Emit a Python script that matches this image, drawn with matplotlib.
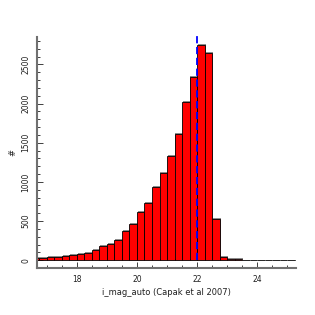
import matplotlib
matplotlib.use("Agg")
import matplotlib.pyplot as plt
import matplotlib.patheffects as pe
from matplotlib.ticker import MultipleLocator

bin_left = [16.5 + 0.25 * i for i in range(36)]
counts = [28, 30, 38, 40, 55, 64, 85, 94, 135, 182, 204, 259, 372, 462, 610, 728,
          934, 1110, 1326, 1615, 2015, 2345, 2745, 2640, 523, 46, 20, 12, 6, 4, 3,
          2, 2, 1, 1, 1]
bin_width = 0.25
cut_value = 22.0
xlabel = "i_mag_auto (Capak et al 2007)"
ylabel = "#"

fig = plt.figure(figsize=(3.15, 3.15), dpi=100)
ax = fig.add_axes([0.1175, 0.149, 0.8225, 0.7335])

bars = ax.bar(bin_left, counts, width=bin_width, align="edge",
              color="#ff0000", edgecolor="black", linewidth=0.6, zorder=2)
for b in bars:
    b.set_path_effects([pe.SimplePatchShadow(offset=(0.7, 0.7), shadow_rgbFace="#808080", alpha=0.9),
                        pe.Normal()])

ax.plot([cut_value, cut_value], [0, 2860], color="#0000ff", linestyle=(0, (4, 2)),
        linewidth=1.3, zorder=10, clip_on=False, snap=True)

ax.set_xlim(16.67, 25.3)
ax.set_ylim(-100, 2850)

for s in ["top", "right"]:
    ax.spines[s].set_visible(False)
for s in ["left", "bottom"]:
    ax.spines[s].set_color("#707070")
    ax.spines[s].set_linewidth(1.5)

ax.xaxis.set_major_locator(MultipleLocator(2))
ax.xaxis.set_minor_locator(MultipleLocator(0.5))
ax.yaxis.set_major_locator(MultipleLocator(500))
ax.yaxis.set_minor_locator(MultipleLocator(100))
ax.tick_params(which="both", direction="in", color="#404040", width=0.7, labelsize=5.5,
               labelcolor="#202020")
ax.tick_params(which="major", length=4)
ax.tick_params(which="minor", length=2.5)
ax.tick_params(axis="x", pad=5)
ax.tick_params(axis="y", pad=5)
for lab in ax.get_yticklabels():
    lab.set_rotation(90)
    lab.set_va("center")

ax.set_xlabel(xlabel, fontsize=6, color="#202020", labelpad=3)
ax.set_ylabel(ylabel, fontsize=6, color="#202020", labelpad=1)
ax.yaxis.set_label_coords(-0.075, 0.5)

fig.savefig("out.png", dpi=100)
